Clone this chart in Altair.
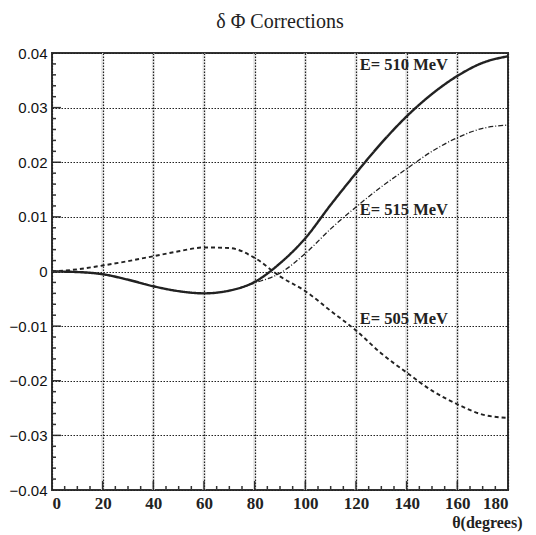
import altair as alt
import pandas as pd

# Data
theta = [0, 10, 20, 30, 40, 50, 60, 70, 80, 90, 100, 110, 120, 130, 140, 150, 160, 170, 180]
e510 = [0.0, -0.0001, -0.0005, -0.0015, -0.0027, -0.0036, -0.0040, -0.0035, -0.0019, 0.0015, 0.0061, 0.0122, 0.0180, 0.0235, 0.0284, 0.0325, 0.0358, 0.0382, 0.0394]
e515 = [0.0, -0.0001, -0.0005, -0.0015, -0.0027, -0.0036, -0.0040, -0.0035, -0.0021, -0.0003, 0.0033, 0.0078, 0.0118, 0.0155, 0.0188, 0.0220, 0.0245, 0.0262, 0.0268]
e505 = [0.0, 0.0004, 0.0011, 0.0019, 0.0028, 0.0037, 0.0044, 0.0043, 0.0025, -0.0009, -0.0036, -0.0072, -0.0108, -0.0150, -0.0185, -0.0218, -0.0243, -0.0262, -0.0268]

label_text = ["E= 510 MeV", "E= 515 MeV", "E= 505 MeV"]
label_x = [121.5, 121.5, 121.5]
label_y = [0.0368, 0.0104, -0.0097]

x_major = [0, 20, 40, 60, 80, 100, 120, 140, 160, 180]
y_major = [-0.04, -0.03, -0.02, -0.01, 0, 0.01, 0.02, 0.03, 0.04]
x_minor = [v for v in range(0, 181, 5) if v % 20 != 0]
y_minor = [round(-0.04 + 0.002 * i, 4) for i in range(41) if i % 5 != 0]

W, H = 456, 437
SERIF = "Liberation Serif"
SANS = "Liberation Sans"

rows = []
for name, ys in [("510", e510), ("515", e515), ("505", e505)]:
    for t, v in zip(theta, ys):
        rows.append({"theta": t, "val": v, "E": name})
df = pd.DataFrame(rows)

xs = alt.Scale(domain=[0, 180], nice=False, zero=False)
ys_ = alt.Scale(domain=[-0.04, 0.04], nice=False, zero=False)

xaxis = alt.Axis(values=x_major, grid=True, gridDash=[1.5, 1.5], gridColor="#222", gridWidth=1.2,
                 ticks=False, domain=False, labelFont=SERIF, labelFontSize=17, labelFontWeight="bold",
                 labelColor="#222", labelPadding=5, title="θ(degrees)", titleFont=SERIF,
                 titleFontSize=16, titleFontWeight="bold", titleColor="#222",
                 titleAnchor="end", titleAlign="right", titleX=W + 14, titlePadding=3, zindex=1)
yaxis = alt.Axis(values=y_major, grid=True, gridDash=[1.5, 1.5], gridColor="#222", gridWidth=1.2,
                 ticks=False, domain=False, labelFont=SANS, labelFontSize=15, labelFontWeight="normal",
                 labelColor="#111", labelPadding=5, title=None, zindex=1,
                 labelExpr="datum.value == 0 ? '0' : format(datum.value, '.2f')")

base = alt.Chart(df)

def line(name, width, dash):
    return base.transform_filter(alt.datum.E == name).mark_line(
        color="#222", strokeWidth=width, strokeDash=dash, interpolate="monotone"
    ).encode(x=alt.X("theta:Q", scale=xs, axis=xaxis), y=alt.Y("val:Q", scale=ys_, axis=yaxis))

l510 = line("510", 2.4, [1, 0])
l515 = line("515", 1.3, [5, 2, 1, 2])
l505 = line("505", 1.9, [4, 3])

lab = alt.Chart(pd.DataFrame({"t": label_text, "x": label_x, "y": label_y})).mark_text(
    align="left", baseline="alphabetic", font=SERIF, fontSize=16.5, fontWeight="bold", color="#222"
).encode(x=alt.X("x:Q", scale=xs), y=alt.Y("y:Q", scale=ys_), text="t:N")

# faint vertical bands behind the x grid
band = alt.Chart(pd.DataFrame({"x": x_major[1:-1]})).mark_rule(color="#e6e6e6", strokeWidth=3).encode(
    x=alt.X("x:Q", scale=xs))

# inward ticks
xt_minor = alt.Chart(pd.DataFrame({"x": x_minor})).mark_rule(color="#333", strokeWidth=1.5).encode(
    x=alt.X("x:Q", scale=xs), y=alt.value(H), y2=alt.value(H - 4))
xt_major = alt.Chart(pd.DataFrame({"x": x_major})).mark_rule(color="#333", strokeWidth=1.5).encode(
    x=alt.X("x:Q", scale=xs), y=alt.value(H), y2=alt.value(H - 9))
yt_minor = alt.Chart(pd.DataFrame({"y": y_minor})).mark_rule(color="#333", strokeWidth=1.5).encode(
    y=alt.Y("y:Q", scale=ys_), x=alt.value(0), x2=alt.value(4))
yt_major = alt.Chart(pd.DataFrame({"y": y_major})).mark_rule(color="#333", strokeWidth=1.5).encode(
    y=alt.Y("y:Q", scale=ys_), x=alt.value(0), x2=alt.value(9))

chart = alt.layer(band, l510, l515, l505, lab, xt_minor, xt_major, yt_minor, yt_major).properties(
    width=W, height=H,
    background="white",
    title=alt.TitleParams("δ Φ Corrections", font=SERIF, fontSize=20,
                          fontWeight="normal", color="#222", offset=14, anchor="middle"),
    autosize=alt.AutoSizeParams(type="none"),
    padding={"left": 44, "top": 45, "right": 20, "bottom": 45},
).configure_view(stroke="#333", strokeWidth=2).configure_title(font=SERIF, fontWeight="normal")

chart.save("out.html", embed_options={"renderer": "svg", "actions": False})
